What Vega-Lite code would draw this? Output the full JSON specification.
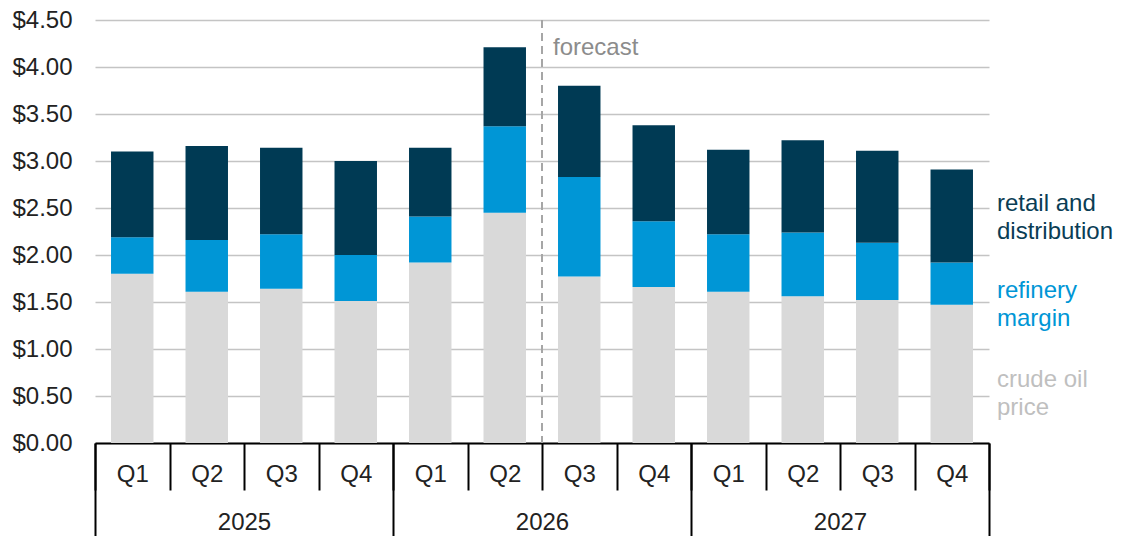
{
  "$schema": "https://vega.github.io/schema/vega-lite/v6.json",
  "width": 894,
  "height": 423,
  "autosize": {"type": "none"},
  "padding": {"left": 95, "top": 20, "right": 132, "bottom": 93},
  "background": "white",
  "config": {
    "font": "Liberation Sans",
    "view": {"stroke": null},
    "axis": {"labelFont": "Liberation Sans"},
    "text": {"font": "Liberation Sans"}
  },
  "datasets": {
    "prices": [
      {"q": "2025 Q1", "year": "2025", "series": "crude oil price", "value": 1.80},
      {"q": "2025 Q1", "year": "2025", "series": "refinery margin", "value": 0.39},
      {"q": "2025 Q1", "year": "2025", "series": "retail and distribution", "value": 0.91},
      {"q": "2025 Q2", "year": "2025", "series": "crude oil price", "value": 1.61},
      {"q": "2025 Q2", "year": "2025", "series": "refinery margin", "value": 0.55},
      {"q": "2025 Q2", "year": "2025", "series": "retail and distribution", "value": 1.00},
      {"q": "2025 Q3", "year": "2025", "series": "crude oil price", "value": 1.64},
      {"q": "2025 Q3", "year": "2025", "series": "refinery margin", "value": 0.58},
      {"q": "2025 Q3", "year": "2025", "series": "retail and distribution", "value": 0.92},
      {"q": "2025 Q4", "year": "2025", "series": "crude oil price", "value": 1.51},
      {"q": "2025 Q4", "year": "2025", "series": "refinery margin", "value": 0.49},
      {"q": "2025 Q4", "year": "2025", "series": "retail and distribution", "value": 1.00},
      {"q": "2026 Q1", "year": "2026", "series": "crude oil price", "value": 1.92},
      {"q": "2026 Q1", "year": "2026", "series": "refinery margin", "value": 0.49},
      {"q": "2026 Q1", "year": "2026", "series": "retail and distribution", "value": 0.73},
      {"q": "2026 Q2", "year": "2026", "series": "crude oil price", "value": 2.45},
      {"q": "2026 Q2", "year": "2026", "series": "refinery margin", "value": 0.92},
      {"q": "2026 Q2", "year": "2026", "series": "retail and distribution", "value": 0.84},
      {"q": "2026 Q3", "year": "2026", "series": "crude oil price", "value": 1.77},
      {"q": "2026 Q3", "year": "2026", "series": "refinery margin", "value": 1.06},
      {"q": "2026 Q3", "year": "2026", "series": "retail and distribution", "value": 0.97},
      {"q": "2026 Q4", "year": "2026", "series": "crude oil price", "value": 1.66},
      {"q": "2026 Q4", "year": "2026", "series": "refinery margin", "value": 0.70},
      {"q": "2026 Q4", "year": "2026", "series": "retail and distribution", "value": 1.02},
      {"q": "2027 Q1", "year": "2027", "series": "crude oil price", "value": 1.61},
      {"q": "2027 Q1", "year": "2027", "series": "refinery margin", "value": 0.61},
      {"q": "2027 Q1", "year": "2027", "series": "retail and distribution", "value": 0.90},
      {"q": "2027 Q2", "year": "2027", "series": "crude oil price", "value": 1.56},
      {"q": "2027 Q2", "year": "2027", "series": "refinery margin", "value": 0.68},
      {"q": "2027 Q2", "year": "2027", "series": "retail and distribution", "value": 0.98},
      {"q": "2027 Q3", "year": "2027", "series": "crude oil price", "value": 1.52},
      {"q": "2027 Q3", "year": "2027", "series": "refinery margin", "value": 0.61},
      {"q": "2027 Q3", "year": "2027", "series": "retail and distribution", "value": 0.98},
      {"q": "2027 Q4", "year": "2027", "series": "crude oil price", "value": 1.47},
      {"q": "2027 Q4", "year": "2027", "series": "refinery margin", "value": 0.45},
      {"q": "2027 Q4", "year": "2027", "series": "retail and distribution", "value": 0.99}
    ],
    "seriesLabels": [
      {"q": "2027 Q4", "series": "retail and distribution", "label": "retail and\ndistribution", "y": 2.54},
      {"q": "2027 Q4", "series": "refinery margin", "label": "refinery\nmargin", "y": 1.615},
      {"q": "2027 Q4", "series": "crude oil price", "label": "crude oil\nprice", "y": 0.67}
    ],
    "forecast": [
      {"q": "2026 Q3", "label": "forecast", "y": 4.13}
    ],
    "years": [
      {"year": "2025"}, {"year": "2026"}, {"year": "2027"}
    ]
  },
  "layer": [
    {
      "data": {"name": "prices"},
      "mark": {"type": "bar", "width": {"band": 0.57}},
      "encoding": {
        "x": {
          "field": "q",
          "type": "nominal",
          "scale": {"type": "band", "paddingInner": 0, "paddingOuter": 0},
          "axis": {
            "orient": "bottom",
            "title": null,
            "labelExpr": "split(datum.label, ' ')[1]",
            "labelAngle": 0,
            "labelFontSize": 24,
            "labelColor": "#222222",
            "labelBaseline": "middle",
            "labelPadding": -16,
            "tickBand": "extent",
            "tickSize": 47,
            "tickWidth": 2,
            "tickColor": "#000000",
            "domainColor": "#000000",
            "domainWidth": 2,
            "grid": false,
            "labelOverlap": false
          }
        },
        "y": {
          "field": "value",
          "type": "quantitative",
          "aggregate": "sum",
          "stack": "zero",
          "scale": {"domain": [0, 4.5], "nice": false},
          "axis": {
            "title": null,
            "values": [0, 0.5, 1, 1.5, 2, 2.5, 3, 3.5, 4, 4.5],
            "format": "$.2f",
            "labelFontSize": 24,
            "labelColor": "#222222",
            "labelPadding": 23,
            "ticks": false,
            "tickSize": 0,
            "domain": false,
            "grid": true,
            "gridColor": "#c4c4c4",
            "gridWidth": 1.6
          }
        },
        "color": {
          "field": "series",
          "type": "nominal",
          "scale": {
            "domain": ["crude oil price", "refinery margin", "retail and distribution"],
            "range": ["#d9d9d9", "#0096d6", "#003a54"]
          },
          "legend": null
        },
        "order": {"field": "series", "sort": "ascending"}
      }
    },
    {
      "data": {"name": "years"},
      "mark": {"type": "rule", "opacity": 0},
      "encoding": {
        "x": {
          "field": "year",
          "type": "nominal",
          "scale": {"type": "band", "paddingInner": 0, "paddingOuter": 0},
          "axis": {
            "orient": "bottom",
            "title": null,
            "labelAngle": 0,
            "labelFontSize": 24,
            "labelColor": "#222222",
            "labelBaseline": "middle",
            "labelPadding": -16,
            "tickBand": "extent",
            "tickSize": 95,
            "tickWidth": 2,
            "tickColor": "#000000",
            "domain": false,
            "grid": false
          }
        }
      }
    },
    {
      "data": {"name": "forecast"},
      "mark": {"type": "rule", "color": "#a6a6a6", "strokeWidth": 2, "strokeDash": [8, 5]},
      "encoding": {
        "x": {
          "field": "q", "type": "nominal", "bandPosition": 0, "axis": null,
          "scale": {"type": "band", "paddingInner": 0, "paddingOuter": 0,
            "domain": ["2025 Q1","2025 Q2","2025 Q3","2025 Q4","2026 Q1","2026 Q2","2026 Q3","2026 Q4","2027 Q1","2027 Q2","2027 Q3","2027 Q4"]}
        }
      }
    },
    {
      "data": {"name": "forecast"},
      "mark": {"type": "text", "align": "left", "baseline": "alphabetic", "dx": 11, "fontSize": 24, "color": "#8c8c8c"},
      "encoding": {
        "x": {
          "field": "q", "type": "nominal", "bandPosition": 0, "axis": null,
          "scale": {"type": "band", "paddingInner": 0, "paddingOuter": 0,
            "domain": ["2025 Q1","2025 Q2","2025 Q3","2025 Q4","2026 Q1","2026 Q2","2026 Q3","2026 Q4","2027 Q1","2027 Q2","2027 Q3","2027 Q4"]}
        },
        "y": {"field": "y", "type": "quantitative", "axis": {"title": null}},
        "text": {"field": "label"}
      }
    },
    {
      "data": {"name": "seriesLabels"},
      "mark": {"type": "text", "align": "left", "baseline": "middle", "dx": 8, "fontSize": 24, "lineHeight": 28, "lineBreak": "\n"},
      "encoding": {
        "x": {
          "field": "q", "type": "nominal", "bandPosition": 1, "axis": null,
          "scale": {"type": "band", "paddingInner": 0, "paddingOuter": 0,
            "domain": ["2025 Q1","2025 Q2","2025 Q3","2025 Q4","2026 Q1","2026 Q2","2026 Q3","2026 Q4","2027 Q1","2027 Q2","2027 Q3","2027 Q4"]}
        },
        "y": {"field": "y", "type": "quantitative", "axis": {"title": null}},
        "text": {"field": "label"},
        "color": {
          "field": "series",
          "type": "nominal",
          "scale": {
            "domain": ["crude oil price", "refinery margin", "retail and distribution"],
            "range": ["#bfbfbf", "#0096d6", "#0a3d55"]
          },
          "legend": null
        }
      }
    }
  ],
  "resolve": {"scale": {"x": "independent", "color": "independent"}}
}
